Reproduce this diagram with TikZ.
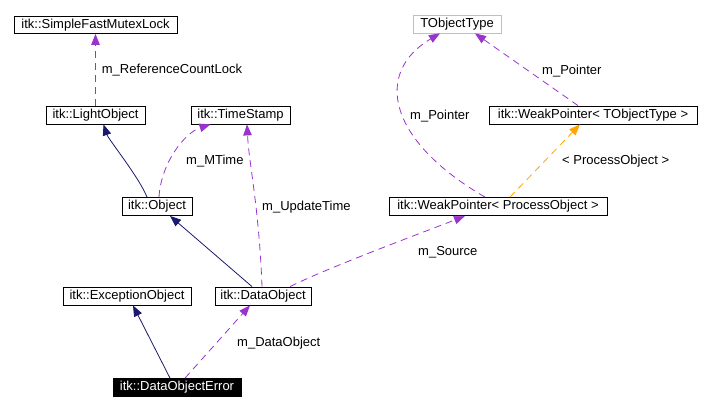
\documentclass[tikz,border=0pt]{standalone}
\usepackage{fontspec}
\setmainfont{Liberation Sans}
\usepackage{tikz}
\usetikzlibrary{arrows.meta, positioning, calc}

\definecolor{navyline}{HTML}{191970}
\definecolor{usepurple}{HTML}{9A32CD}
\definecolor{tmplorange}{HTML}{FFA500}
\definecolor{boxgray}{HTML}{BFBFBF}

\begin{document}
\begin{tikzpicture}[x=1pt, y=-1pt, >={Triangle[length=11pt,width=8.5pt]},
  font=\fontsize{13}{15}\selectfont,
  cls/.style={draw, line width=0.8pt, inner sep=0pt, minimum height=18pt},
  inh/.style={->, draw=navyline, line width=0.8pt},
  usage/.style={->, draw=usepurple, line width=0.8pt, dash pattern=on 7pt off 5pt},
  tmpl/.style={->, draw=tmplorange, line width=0.8pt, dash pattern=on 7pt off 5pt},
  lbl/.style={anchor=west, inner sep=0pt}]
  \useasboundingbox (0,0) rectangle (710,411);
  % classes
  \node[cls, minimum width=163pt, minimum height=17pt] (mutex) at (95.5,25) {itk::SimpleFastMutexLock};
  \node[cls, draw=boxgray, minimum width=88pt] (tobj) at (457,24) {TObjectType};
  \node[cls, minimum width=99pt] (light) at (95.5,115) {itk::LightObject};
  \node[cls, minimum width=99pt] (stamp) at (240.5,115) {itk::TimeStamp};
  \node[cls, minimum width=208pt] (wpt) at (593,115) {itk::WeakPointer< TObjectType >};
  \node[cls, minimum width=70pt] (object) at (157,206.5) {itk::Object};
  \node[cls, minimum width=218pt] (wpp) at (498,206.5) {itk::WeakPointer< ProcessObject >};
  \node[cls, minimum width=128pt] (exc) at (127,296) {itk::ExceptionObject};
  \node[cls, minimum width=96pt] (data) at (263,296) {itk::DataObject};
  \node[cls, fill=black, text=white, minimum width=128pt] (err) at (177,387.5) {itk::DataObjectError};
  % inheritance
  \draw[inh] ([xshift=-10pt]object.north) .. controls +(-8,-20) and +(5,15) .. ([xshift=8pt]light.south);
  \draw[inh] ([xshift=-11pt]data.north) -- ([xshift=13pt]object.south);
  \draw[inh] ([xshift=-7pt]err.north) -- ([xshift=6pt]exc.south);
  % usage
  \draw[usage] (light.north) -- node[lbl, right=6pt] (lref) {m\_ReferenceCountLock} (mutex.south);
  \draw[usage] ([xshift=2pt]object.north) .. controls +(2,-35) and +(-25,8) .. ([xshift=-30pt]stamp.south);
  \draw[usage] ([xshift=-1pt]data.north) .. controls +(-3,-80) and +(2,40) .. ([xshift=6.5pt]stamp.south);
  \draw[usage] ([xshift=27pt]data.north) .. controls +(40,-20) and +(-30,12) .. ([xshift=-33pt]wpp.south);
  \draw[usage] ([xshift=-13pt]wpp.north) .. controls +(-98,-57) and +(-66,39) .. ([xshift=-17pt]tobj.south);
  \draw[usage] ([xshift=-15pt]wpt.north) -- ([xshift=18pt]tobj.south);
  \draw[usage] ([xshift=8pt]err.north) -- ([xshift=-13pt]data.south);
  % template
  \draw[tmpl] ([xshift=12pt]wpp.north) -- ([xshift=-13pt]wpt.south);
  % labels
  \node[lbl] (lmtime) at (186,161) {m\_MTime};
  \node[lbl] (lupdate) at (262,207) {m\_UpdateTime};
  \node[lbl] (lptra) at (542,71) {m\_Pointer};
  \node[lbl] (lptrb) at (410,116) {m\_Pointer};
  \node[lbl] (lproc) at (562,161) {< ProcessObject >};
  \node[lbl] (lsrc) at (418,252) {m\_Source};
  \node[lbl] (ldata) at (237,343) {m\_DataObject};
\end{tikzpicture}
\end{document}
